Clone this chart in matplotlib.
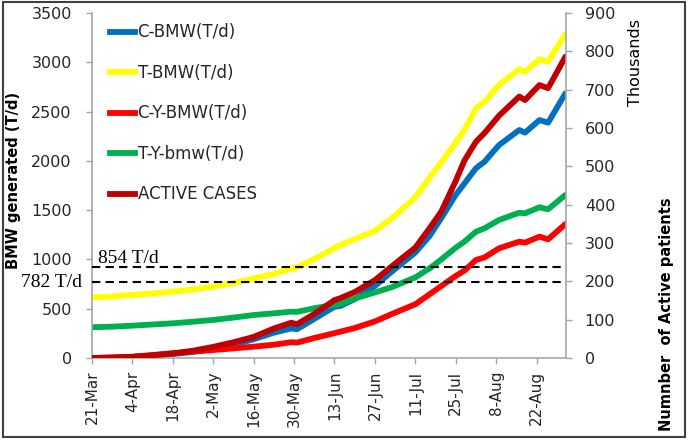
import matplotlib
matplotlib.use("Agg")
import matplotlib.pyplot as plt
from matplotlib.patches import Rectangle
from matplotlib.lines import Line2D

# ---- data (day offsets from 21-Mar) ----
days = [0, 7, 14, 21, 28, 35, 42, 49, 56, 63, 69, 71, 77, 84, 86, 91, 98, 104,
        112, 117, 121, 126, 129, 133, 136, 141, 148, 150, 155, 158, 164]

c_bmw = [0, 3, 10, 22, 40, 62, 90, 135, 190, 257, 300, 292, 396, 520, 527, 597,
         730, 880, 1070, 1240, 1420, 1655, 1770, 1925, 1992, 2160, 2313, 2286,
         2414, 2387, 2685]
t_bmw = [615, 625, 640, 655, 673, 695, 724, 760, 808, 852, 910, 918, 1005, 1115,
         1146, 1205, 1290, 1420, 1630, 1833, 1985, 2185, 2313, 2533, 2600, 2770,
         2929, 2905, 3030, 3006, 3285]
c_y_bmw = [0, 5, 13, 30, 48, 65, 81, 98, 115, 135, 160, 156, 203, 252, 267, 304,
           371, 448, 545, 648, 730, 832, 886, 994, 1021, 1113, 1180, 1170, 1231,
           1204, 1359]
t_y_bmw = [312, 318, 328, 340, 352, 368, 386, 410, 436, 453, 470, 468, 505, 540,
           548, 603, 665, 720, 818, 910, 1000, 1119, 1180, 1281, 1316, 1400, 1474,
           1468, 1529, 1509, 1654]
active_k = [0, 1, 3, 7, 12, 19, 29, 41, 55, 77, 92, 88, 115, 151, 156, 172, 203,
            240, 288, 339, 382, 462, 515, 564, 587, 632, 682, 673, 712, 704, 786]

series_labels = ["C-BMW(T/d)", "T-BMW(T/d)", "C-Y-BMW(T/d)", "T-Y-bmw(T/d)", "ACTIVE CASES"]
series_colors = ["#0070C0", "#FFFF00", "#FF0000", "#00B050", "#C00000"]

tick_days = [0, 14, 28, 42, 56, 70, 84, 98, 112, 126, 140, 154]
tick_labels = ["21-Mar", "4-Apr", "18-Apr", "2-May", "16-May", "30-May",
               "13-Jun", "27-Jun", "11-Jul", "25-Jul", "8-Aug", "22-Aug"]

ref_levels = [920, 768]
ref_texts = ["854 T/d", "782 T/d"]

left_ticks = list(range(0, 3501, 500))
right_ticks = list(range(0, 901, 100))

# ---- figure ----
plt.rcParams['font.family'] = ['DejaVu Sans']
fig = plt.figure(figsize=(6.88, 4.40), dpi=100)
ax = fig.add_axes([92/688, 82/440, 474/688, 345/440])
ax2 = ax.twinx()

gray = "#A6A6A6"
lw = 4.2
for vals, col in zip([c_bmw, t_bmw, c_y_bmw, t_y_bmw], series_colors[:4]):
    ax.plot(days, vals, color=col, lw=lw, solid_capstyle='round', solid_joinstyle='round')
ax2.plot(days, active_k, color=series_colors[4], lw=lw, solid_capstyle='round',
         solid_joinstyle='round')

ax.set_xlim(0, 164.2)
ax.set_ylim(0, 3500)
ax2.set_ylim(0, 900)
ax.set_yticks(left_ticks)
ax2.set_yticks(right_ticks)
ax.set_xticks(tick_days)
ax.set_xticklabels(tick_labels, rotation=90)

for a in (ax, ax2):
    for s in a.spines.values():
        s.set_color(gray)
        s.set_linewidth(1.2)
    a.spines['top'].set_visible(False)
ax.spines['right'].set_visible(False)
ax2.spines['left'].set_visible(False)
ax2.spines['bottom'].set_visible(False)

ax.tick_params(axis='y', length=4, width=1, color=gray, pad=10.5, labelsize=11.5, labelcolor='#262626')
ax.tick_params(axis='x', length=4, width=1, color=gray, pad=5, labelsize=11, labelcolor='#262626')
ax2.tick_params(axis='y', length=4, width=1, color=gray, pad=9.5, labelsize=11.5, labelcolor='#262626')

# reference dashed lines (drawn on top)
for lvl in ref_levels:
    ax2.plot([0, 164.2], [lvl, lvl], transform=ax.transData, color='black',
             lw=1.5, linestyle=(0, (4, 2.5)), zorder=5)

serif = ['Liberation Serif', 'DejaVu Serif']
ax.text(2.1, 964, ref_texts[0], family=serif, fontsize=14, ha='left', va='baseline')
ax.text(-3.5, ref_levels[1], ref_texts[1], family=serif, fontsize=14, ha='right',
        va='center', clip_on=False)

# legend
handles = [Line2D([0], [0], color=c, lw=lw) for c in series_colors]
leg = ax2.legend(handles, series_labels, loc='upper left', bbox_to_anchor=(0.038, 0.97),
                 frameon=False, fontsize=12, handlelength=1.5, handletextpad=0.15,
                 labelspacing=1.35, borderpad=0, borderaxespad=0)
for t in leg.get_texts():
    t.set_color('#262626')

# axis titles
fig.text(14/688, 1 - 180/440, "BMW generated (T/d)", rotation=90, ha='center', va='center',
         fontsize=10.5, fontweight='bold')
fig.text(666/688, 1 - 314/440, "Numnber  of Active patients", rotation=90, ha='center',
         va='center', fontsize=10.5, fontweight='bold')
fig.text(635/688, 1 - 62/440, "Thousands", rotation=90, ha='center', va='center', fontsize=11.5)

# outer border
fig.patches.append(Rectangle((3/688, 3/440), 682/688, 435/440, transform=fig.transFigure,
                             fill=False, edgecolor='#404040', lw=1.5))

fig.savefig("out.png", dpi=100)
